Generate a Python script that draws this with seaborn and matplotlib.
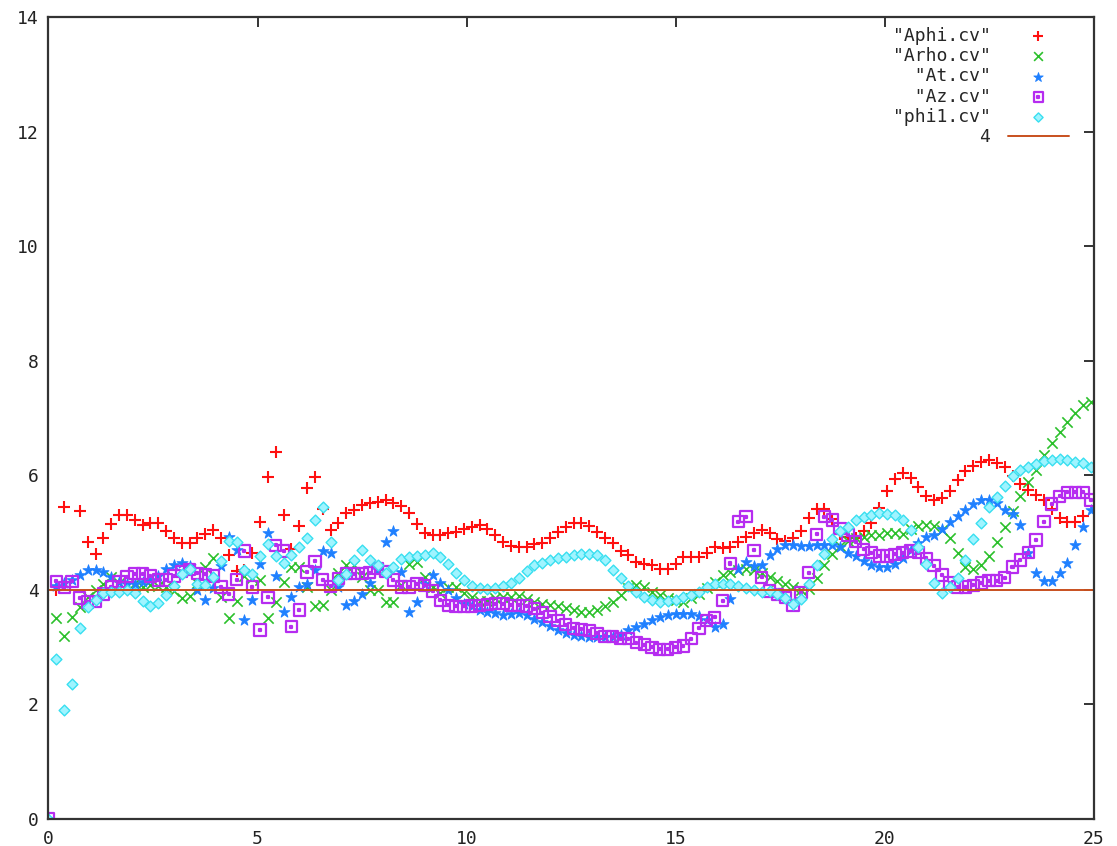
import numpy as np
import seaborn as sns
import matplotlib.pyplot as plt
from matplotlib.path import Path

nan = float('nan')

# sample positions (step 0.1875)
x = [
    0.0, 0.1875, 0.375, 0.5625, 0.75, 0.9375, 1.125, 1.3125, 1.5, 1.6875, 1.875, 2.0625, 2.25, 2.4375, 2.625, 2.8125,
    3.0, 3.1875, 3.375, 3.5625, 3.75, 3.9375, 4.125, 4.3125, 4.5, 4.6875, 4.875, 5.0625, 5.25, 5.4375, 5.625, 5.8125,
    6.0, 6.1875, 6.375, 6.5625, 6.75, 6.9375, 7.125, 7.3125, 7.5, 7.6875, 7.875, 8.0625, 8.25, 8.4375, 8.625, 8.8125,
    9.0, 9.1875, 9.375, 9.5625, 9.75, 9.9375, 10.125, 10.3125, 10.5, 10.6875, 10.875, 11.0625, 11.25, 11.4375, 11.625, 11.8125,
    12.0, 12.1875, 12.375, 12.5625, 12.75, 12.9375, 13.125, 13.3125, 13.5, 13.6875, 13.875, 14.0625, 14.25, 14.4375, 14.625, 14.8125,
    15.0, 15.1875, 15.375, 15.5625, 15.75, 15.9375, 16.125, 16.3125, 16.5, 16.6875, 16.875, 17.0625, 17.25, 17.4375, 17.625, 17.8125,
    18.0, 18.1875, 18.375, 18.5625, 18.75, 18.9375, 19.125, 19.3125, 19.5, 19.6875, 19.875, 20.0625, 20.25, 20.4375, 20.625, 20.8125,
    21.0, 21.1875, 21.375, 21.5625, 21.75, 21.9375, 22.125, 22.3125, 22.5, 22.6875, 22.875, 23.0625, 23.25, 23.4375, 23.625, 23.8125,
    24.0, 24.1875, 24.375, 24.5625, 24.75, 24.9375,
]

aphi = [
    nan, 4.00, 5.44, nan, 5.37, 4.84, 4.62, 4.91, 5.15, 5.31, 5.31, 5.22, 5.13, 5.16, 5.16, 5.03,
    4.90, 4.81, 4.81, 4.91, 4.98, 5.04, 4.90, 4.60, 4.33, 4.35, 4.64, 5.19, 5.97, 6.41, 5.30, 4.72,
    5.12, 5.78, 5.97, 5.42, 5.04, 5.17, 5.35, 5.40, 5.48, 5.51, 5.54, 5.57, 5.52, 5.46, 5.35, 5.15,
    4.99, 4.96, 4.96, 4.99, 5.01, 5.06, 5.09, 5.13, 5.06, 4.96, 4.84, 4.76, 4.75, 4.75, 4.80, 4.82,
    4.91, 5.01, 5.10, 5.16, 5.16, 5.11, 5.01, 4.91, 4.81, 4.68, 4.60, 4.49, 4.46, 4.43, 4.36, 4.36,
    4.45, 4.57, 4.57, 4.57, 4.65, 4.75, 4.73, 4.75, 4.84, 4.93, 5.00, 5.05, 5.00, 4.88, 4.86, 4.90,
    5.03, 5.26, 5.42, 5.42, 5.23, 4.98, 4.93, 4.90, 5.02, 5.17, 5.43, 5.72, 5.94, 6.04, 5.96, 5.79,
    5.63, 5.57, 5.60, 5.72, 5.92, 6.07, 6.16, 6.23, 6.27, 6.22, 6.14, 5.99, 5.85, 5.75, 5.65, 5.57,
    5.42, 5.26, 5.18, 5.18, 5.29, nan,
]

arho = [
    nan, 3.51, 3.19, 3.53, 3.70, 3.88, 4.00, 4.11, 4.22, 4.12, 4.07, 4.12, 4.05, 4.08, 4.06, 4.05,
    3.98, 3.86, 3.90, 4.12, 4.40, 4.55, 3.87, 3.51, 3.81, 4.25, 4.20, 4.18, 3.51, 3.78, 4.14, 4.40,
    4.40, 4.05, 3.71, 3.73, 4.00, 4.30, 4.43, 4.43, 4.23, 4.00, 4.00, 3.79, 3.79, 4.08, 4.45, 4.48,
    4.23, 4.05, 3.95, 4.05, 4.05, 3.95, 3.88, 3.80, 3.80, 3.86, 3.88, 3.88, 3.90, 3.84, 3.79, 3.76,
    3.73, 3.71, 3.68, 3.65, 3.62, 3.62, 3.65, 3.71, 3.79, 3.91, 4.03, 4.08, 4.05, 3.97, 3.91, 3.85,
    3.82, 3.78, 3.85, 3.92, 4.04, 4.13, 4.26, 4.31, 4.35, 4.36, 4.34, 4.30, 4.23, 4.16, 4.11, 4.05,
    4.00, 4.02, 4.20, 4.43, 4.62, 4.76, 4.85, 4.90, 4.93, 4.96, 4.96, 4.99, 4.99, 4.97, 5.06, 5.11,
    5.13, 5.11, 5.05, 4.90, 4.64, 4.40, 4.36, 4.43, 4.59, 4.83, 5.10, 5.37, 5.63, 5.89, 6.10, 6.35,
    6.57, 6.76, 6.93, 7.09, 7.23, 7.28,
]

at = [
    0.00, 4.06, 4.12, 4.18, 4.26, 4.35, 4.35, 4.31, 4.22, 4.14, 4.11, 4.11, 4.13, 4.18, 4.25, 4.36,
    4.43, 4.47, 4.42, 4.00, 3.83, 4.04, 4.42, 4.93, 4.69, 3.47, 3.82, 4.46, 5.00, 4.25, 3.62, 3.88,
    4.05, 4.11, 4.35, 4.67, 4.64, 4.05, 3.74, 3.80, 3.93, 4.12, 4.35, 4.84, 5.03, 4.31, 3.61, 3.78,
    4.11, 4.26, 4.12, 4.00, 3.85, 3.76, 3.71, 3.65, 3.62, 3.59, 3.56, 3.58, 3.60, 3.56, 3.50, 3.44,
    3.37, 3.30, 3.24, 3.21, 3.19, 3.18, 3.17, 3.17, 3.18, 3.22, 3.30, 3.36, 3.41, 3.47, 3.52, 3.56,
    3.58, 3.58, 3.58, 3.55, 3.48, 3.35, 3.40, 3.84, 4.37, 4.49, 4.41, 4.43, 4.61, 4.71, 4.78, 4.78,
    4.76, 4.76, 4.78, 4.78, 4.78, 4.74, 4.64, 4.59, 4.51, 4.43, 4.40, 4.40, 4.46, 4.55, 4.69, 4.81,
    4.93, 4.96, 5.06, 5.19, 5.29, 5.39, 5.50, 5.57, 5.57, 5.51, 5.40, 5.33, 5.13, 4.65, 4.29, 4.16,
    4.16, 4.29, 4.47, 4.78, 5.10, 5.39,
]

az = [
    0.00, 4.15, 4.04, 4.15, 3.86, 3.79, 3.80, 3.93, 4.05, 4.14, 4.23, 4.28, 4.28, 4.24, 4.17, 4.17,
    4.24, 4.32, 4.36, 4.29, 4.27, 4.24, 4.05, 3.93, 4.18, 4.68, 4.05, 3.30, 3.87, 4.78, 4.68, 3.36,
    3.65, 4.31, 4.50, 4.18, 4.06, 4.20, 4.28, 4.28, 4.29, 4.30, 4.37, 4.32, 4.17, 4.05, 4.05, 4.11,
    4.08, 3.98, 3.82, 3.73, 3.71, 3.71, 3.72, 3.73, 3.75, 3.76, 3.76, 3.73, 3.73, 3.72, 3.67, 3.60,
    3.54, 3.46, 3.39, 3.33, 3.31, 3.29, 3.24, 3.19, 3.18, 3.15, 3.15, 3.08, 3.04, 3.00, 2.96, 2.96,
    3.00, 3.02, 3.15, 3.33, 3.46, 3.52, 3.81, 4.46, 5.19, 5.28, 4.69, 4.22, 3.98, 3.92, 3.87, 3.73,
    3.95, 4.30, 4.97, 5.28, 5.22, 5.07, 4.96, 4.84, 4.71, 4.65, 4.59, 4.59, 4.62, 4.65, 4.68, 4.65,
    4.55, 4.42, 4.26, 4.12, 4.05, 4.05, 4.08, 4.12, 4.16, 4.16, 4.21, 4.40, 4.52, 4.65, 4.87, 5.19,
    5.50, 5.63, 5.70, 5.70, 5.70, 5.57,
]

phi1 = [
    0.00, 2.80, 1.91, 2.36, 3.34, 3.70, 3.82, 3.95, 3.96, 3.97, 4.00, 3.95, 3.81, 3.72, 3.77, 3.91,
    4.06, 4.28, 4.36, 4.11, 4.09, 4.23, 4.50, 4.86, 4.84, 4.34, 4.28, 4.59, 4.80, 4.59, 4.47, 4.60,
    4.75, 4.91, 5.22, 5.44, 4.84, 4.17, 4.28, 4.52, 4.69, 4.52, 4.43, 4.30, 4.40, 4.53, 4.58, 4.59,
    4.61, 4.64, 4.57, 4.45, 4.29, 4.17, 4.06, 4.03, 4.01, 4.03, 4.07, 4.12, 4.21, 4.33, 4.44, 4.47,
    4.52, 4.55, 4.58, 4.61, 4.62, 4.62, 4.61, 4.52, 4.35, 4.20, 4.07, 3.97, 3.87, 3.82, 3.79, 3.80,
    3.82, 3.88, 3.91, 3.97, 4.05, 4.10, 4.11, 4.10, 4.07, 4.04, 4.00, 3.97, 3.98, 3.93, 3.85, 3.76,
    3.84, 4.10, 4.43, 4.62, 4.88, 5.03, 5.10, 5.22, 5.28, 5.31, 5.35, 5.33, 5.31, 5.22, 5.05, 4.75,
    4.45, 4.12, 3.94, 4.05, 4.20, 4.52, 4.88, 5.17, 5.44, 5.62, 5.81, 5.99, 6.09, 6.14, 6.20, 6.25,
    6.27, 6.28, 6.27, 6.24, 6.21, 6.14,
]

const_level = 4
labels = ['"Aphi.cv"', '"Arho.cv"', '"At.cv"', '"Az.cv"', '"phi1.cv"', '4']

sns.set_style("white")
plt.rcParams['font.family'] = ['DejaVu Sans Mono']

fig = plt.figure(figsize=(11.17, 8.46), dpi=100)
ax = fig.add_axes([48.5 / 1117, 1 - 819 / 846, 1045 / 1117, 802 / 846])

# square with a small dot in the middle (gnuplot style)
sq_dot = Path(
    [(-1, -1), (1, -1), (1, 1), (-1, 1), (-1, -1),
     (-0.18, -0.18), (0.18, -0.18), (0.18, 0.18), (-0.18, 0.18), (-0.18, -0.18)],
    [Path.MOVETO, Path.LINETO, Path.LINETO, Path.LINETO, Path.CLOSEPOLY,
     Path.MOVETO, Path.LINETO, Path.LINETO, Path.LINETO, Path.CLOSEPOLY],
)

# right-justify the legend labels like gnuplot does
pad = max(len(s) for s in labels)
lab = [s.rjust(pad) for s in labels]

sns.scatterplot(x=x, y=aphi, marker='+', color='#ff1010', s=80, linewidth=1.5, label=lab[0], ax=ax)
sns.scatterplot(x=x, y=arho, marker='x', color='#2cc02c', s=55, linewidth=1.2, label=lab[1], ax=ax)
sns.scatterplot(x=x, y=at, marker='*', color='#1f80ff', edgecolor='#1f80ff', s=70,
                linewidth=0.6, label=lab[2], ax=ax)
sns.scatterplot(x=x, y=az, marker=sq_dot, facecolor='none', edgecolor='#b62cf0', s=66,
                linewidth=1.6, label=lab[3], ax=ax)
sns.scatterplot(x=x, y=phi1, marker='D', color='#9ff4ff', edgecolor='#38dff0', s=30,
                linewidth=1.0, label=lab[4], ax=ax)
ax.axhline(const_level, color='#c8501e', linewidth=1.4, label=lab[5])

ax.set_xlim(0, 25)
ax.set_ylim(0, 14)
ax.set_xticks([0, 5, 10, 15, 20, 25])
ax.set_yticks([0, 2, 4, 6, 8, 10, 12, 14])
ax.tick_params(direction='in', top=True, right=True, length=7, width=1.4,
               color='#333333', labelsize=13, labelcolor='#222222')
ax.tick_params(axis='x', pad=8)
ax.tick_params(axis='y', pad=7)
for sp in ax.spines.values():
    sp.set_color('#333333')
    sp.set_linewidth(1.6)
    sp.set_visible(True)
ax.set_xlabel('')
ax.set_ylabel('')

ax.legend(loc='upper right', bbox_to_anchor=(1069 / 1117, 1 - 27 / 846),
          bbox_transform=fig.transFigure, frameon=False, markerfirst=False,
          fontsize=13, handlelength=3.4, handletextpad=0.9, labelspacing=0.12,
          borderpad=0, borderaxespad=0, scatterpoints=1, markerscale=0.85)

fig.savefig('out.png', dpi=100)
